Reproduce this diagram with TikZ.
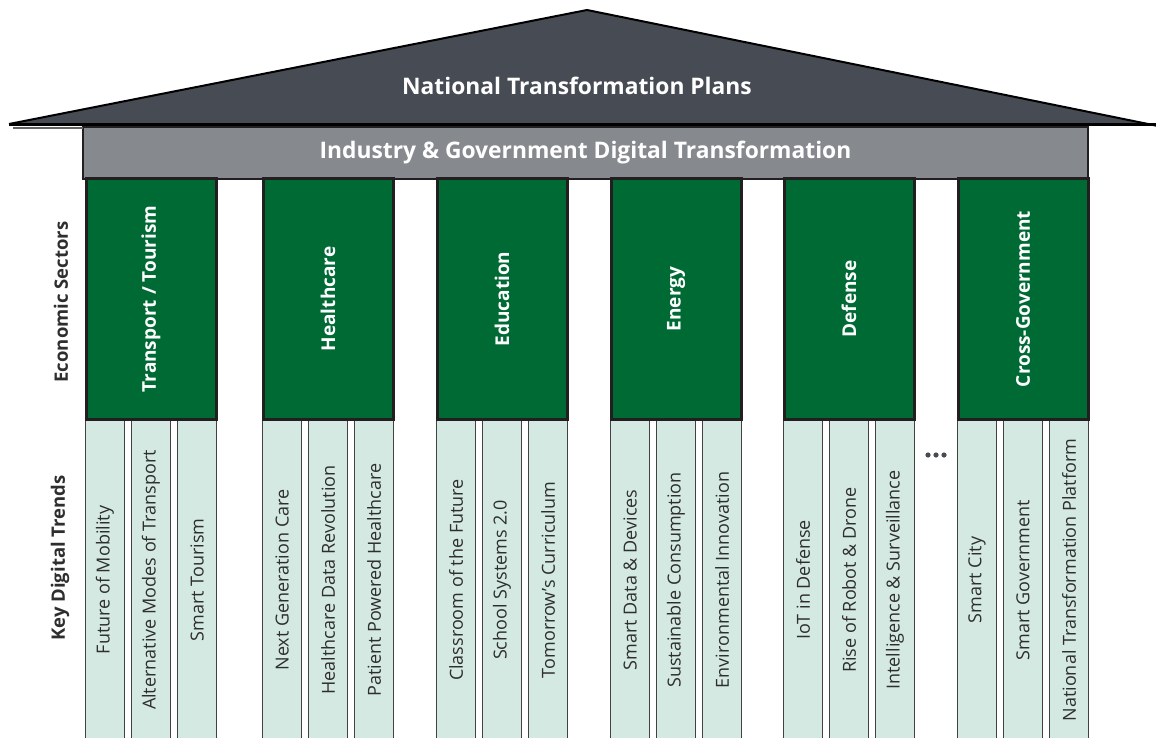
\documentclass[tikz,border=0pt]{standalone}
\usepackage{fontspec}
\setmainfont{Open Sans}
\definecolor{roof}{HTML}{474B53}
\definecolor{band}{HTML}{86898D}
\definecolor{sector}{HTML}{006A35}
\definecolor{trend}{HTML}{D4E9E1}
\definecolor{edge}{HTML}{231F20}
\definecolor{ink}{HTML}{2E2E2E}
\tikzset{
	sectorbox/.style={draw=edge,line width=3pt,fill=sector,rotate=90,minimum width=240pt,minimum height=130pt,inner sep=0pt,text=white,font=\fontsize{19}{22}\selectfont\bfseries},
	trendbox/.style={draw=edge!85,line width=1.4pt,fill=trend,rotate=90,minimum width=322pt,minimum height=38.5pt,inner sep=0pt,text=ink,font=\fontsize{18}{21}\selectfont},
	bandbox/.style={draw=edge,line width=1.5pt,fill=band,minimum width=1005pt,minimum height=52pt,inner sep=0pt,text=white,font=\fontsize{22.8}{26}\selectfont\bfseries},
	sidelabel/.style={rotate=90,text=ink,font=\fontsize{18.5}{22}\selectfont\bfseries}
}
\begin{document}
\begin{tikzpicture}[x=1pt,y=-1pt]
	\useasboundingbox (0,0) rectangle (1156,738);
	% roof
	\fill[roof] (9,124) -- (587,10) -- (1158,126) -- cycle;
	\draw[black,line width=2pt,line join=miter] (9,124) -- (587,10) -- (1158,126);
	\node[bandbox] (band) at (585.5,153) {Industry \& Government Digital Transformation};
	\draw[black,line width=3pt] (9,125) -- (1156,125);
	\draw[edge!70,line width=1.2pt] (13,128) -- (83,128);
	\node[text=white,font=\fontsize{22.8}{26}\selectfont\bfseries] (plans) at (577,86) {National Transformation Plans};
	% pillars
	\foreach \c/\name/\ta/\tb/\tc [count=\i] in {
		151/{Transport / Tourism}/{Future of Mobility}/{Alternative Modes of Transport}/{Smart Tourism},
		328/{Healthcare}/{Next Generation Care}/{Healthcare Data Revolution}/{Patient Powered Healthcare},
		502/{Education}/{Classroom of the Future}/{School Systems 2.0}/{Tomorrow's Curriculum},
		676/{Energy}/{Smart Data \& Devices}/{Sustainable Consumption}/{Environmental Innovation},
		849/{Defense}/{IoT in Defense}/{Rise of Robot \& Drone}/{Intelligence \& Surveillance},
		1023/{Cross-Government}/{Smart City}/{Smart Government}/{National Transformation Platform}}{
		\node[trendbox] (tr\i a) at (\c-46,580) {\ta};
		\node[trendbox] (tr\i b) at (\c,580) {\tb};
		\node[trendbox] (tr\i c) at (\c+46,580) {\tc};
		\node[sectorbox] (sec\i) at (\c,299) {\name};
	}
	\foreach \d in {-8,0,8}
		\fill[roof] (936+\d,455) circle (2.6);
	% side labels
	\node[sidelabel] (econ) at (61,302) {Economic Sectors};
	\node[sidelabel] (keys) at (60,558) {Key Digital Trends};
\end{tikzpicture}
\end{document}
